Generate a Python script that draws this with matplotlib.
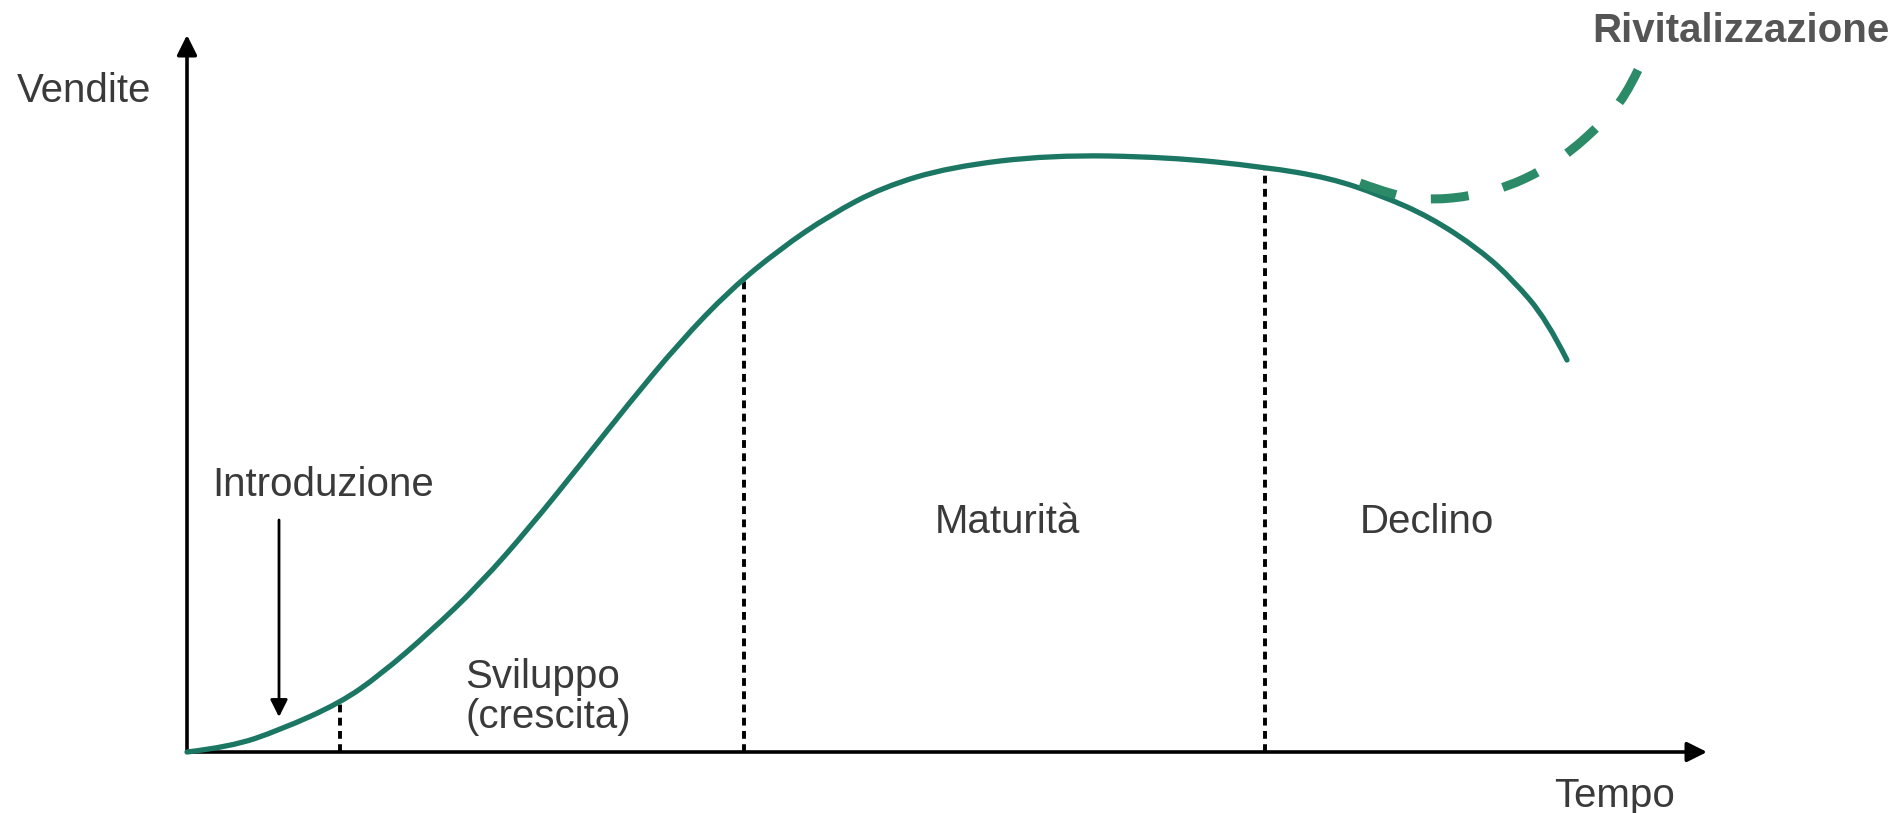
import matplotlib
matplotlib.use("Agg")
import matplotlib.pyplot as plt
from matplotlib.path import Path
from matplotlib.patches import PathPatch

# ---- data (time units, sales units) ----
curve_t = [0, 43, 93, 153, 193, 243, 293, 343, 393, 443, 493, 543, 593, 643, 696, 763,
           863, 980, 1078, 1143, 1193, 1243, 1293, 1326, 1360, 1380]
curve_s = [0, 5, 22, 49, 77, 120, 168, 225, 287, 350, 410, 462, 503, 537, 565, 585,
           597, 595, 585, 574, 557, 535, 502, 472, 432, 392]

revival_t = [1173, 1211, 1245, 1285, 1320, 1356, 1383, 1415, 1438, 1451]
revival_s = [569, 555, 552, 556, 565, 582, 600, 629, 655, 682]

boundary_t = [153, 557, 1078]
boundary_s = [49, 475, 585]

phase_labels = ["Introduzione", "Sviluppo\n(crescita)", "Maturità", "Declino"]
axis_labels = ["Vendite", "Tempo"]
revival_label = "Rivitalizzazione"


def smooth_path(xs, ys):
    """Quadratic B-spline style path rendered by matplotlib (read points as controls)."""
    pts = list(zip(xs, ys))
    verts = [pts[0]]
    codes = [Path.MOVETO]
    n = len(pts)
    for i in range(1, n - 1):
        if i < n - 2:
            end = ((pts[i][0] + pts[i + 1][0]) / 2, (pts[i][1] + pts[i + 1][1]) / 2)
        else:
            end = pts[n - 1]
        verts += [pts[i], end]
        codes += [Path.CURVE3, Path.CURVE3]
    return Path(verts, codes)


# ---- figure ----
fig = plt.figure(figsize=(19.03, 8.13), dpi=100)
ax = fig.add_axes([0, 0, 1, 1])
ax.set_xlim(-187, 1716)
ax.set_ylim(-61, 752)
ax.axis("off")

font = ["Liberation Sans", "DejaVu Sans"]
txt_color = "#3a3a3a"

# axes arrows
ax.annotate("", xy=(0, 717), xytext=(0, 0),
            arrowprops=dict(arrowstyle="-|>", lw=2.6, color="black",
                            mutation_scale=30, shrinkA=0, shrinkB=0))
ax.annotate("", xy=(1520, 0), xytext=(0, 0),
            arrowprops=dict(arrowstyle="-|>", lw=2.6, color="black",
                            mutation_scale=30, shrinkA=0, shrinkB=0))

# phase boundaries
for t, s in zip(boundary_t, boundary_s):
    ax.plot([t, t], [0, s], color="black", lw=2.8, linestyle=(0, (2.0, 1.4)),
            dash_capstyle="butt", zorder=2)

# main life-cycle curve
ax.add_patch(PathPatch(smooth_path(curve_t, curve_s), facecolor="none",
                       edgecolor="#1b7763", lw=3.8, capstyle="round",
                       joinstyle="round", zorder=3))

# revitalisation dashed curve
ax.add_patch(PathPatch(smooth_path(revival_t, revival_s), facecolor="none",
                       edgecolor="#2b8a68", lw=6.5, linestyle=(0, (4.2, 3.9)),
                       capstyle="butt", zorder=4))

# introduction arrow
ax.annotate("", xy=(92, 35), xytext=(92, 232),
            arrowprops=dict(arrowstyle="-|>", lw=2.0, color="black",
                            mutation_scale=26, shrinkA=0, shrinkB=0))

# texts
fs = 29
ax.text(-170, 661, axis_labels[0], fontsize=fs, family=font, color=txt_color,
        ha="left", va="center")
ax.text(1428, -44, axis_labels[1], fontsize=fs, family=font, color=txt_color,
        ha="center", va="center")
ax.text(25, 267, phase_labels[0], fontsize=fs, family=font, color=txt_color,
        ha="left", va="center")
ax.text(278, 55, phase_labels[1], fontsize=fs, family=font, color=txt_color,
        ha="left", va="center", linespacing=1.05)
ax.text(820, 230, phase_labels[2], fontsize=fs, family=font, color=txt_color,
        ha="center", va="center")
ax.text(1240, 230, phase_labels[3], fontsize=fs, family=font, color=txt_color,
        ha="center", va="center")
ax.text(1554, 721, revival_label, fontsize=fs, family=font, color="#555555",
        fontweight="bold", ha="center", va="center")

fig.savefig("out.png", dpi=100)
